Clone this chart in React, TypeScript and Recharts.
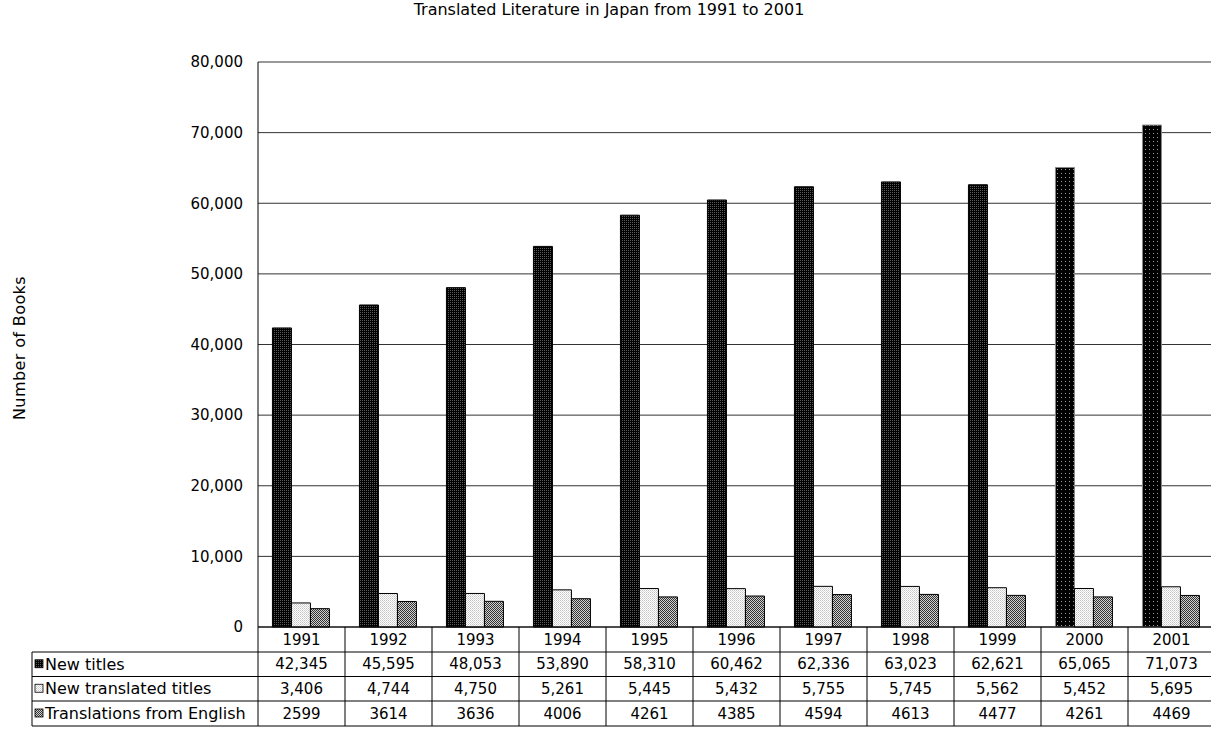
import React from 'react';
import { BarChart, Bar, Cell, XAxis, YAxis, CartesianGrid } from 'recharts';

const YEARS = ['1991', '1992', '1993', '1994', '1995', '1996', '1997', '1998', '1999', '2000', '2001'];
const NEW_TITLES = [42345, 45595, 48053, 53890, 58310, 60462, 62336, 63023, 62621, 65065, 71073];
const NEW_TRANSLATED = [3406, 4744, 4750, 5261, 5445, 5432, 5755, 5745, 5562, 5452, 5695];
const FROM_ENGLISH = [2599, 3614, 3636, 4006, 4261, 4385, 4594, 4613, 4477, 4261, 4469];
const SERIES_LABELS = ['New titles', 'New translated titles', 'Translations from English'];
const Y_TICKS = [0, 10000, 20000, 30000, 40000, 50000, 60000, 70000, 80000];

const FONT = '"DejaVu Sans", "Liberation Sans", Arial, sans-serif';
const CHART_W = 1215;
const CHART_H = 731;
const PLOT_LEFT = 258;
const LABEL_LEFT = 32;
// table row borders below the x axis
const ROW_LINES = [0, 25, 49.5, 74, 99];
const PATTERNS = ['url(#patDark)', 'url(#patLight)', 'url(#patMid)'];

const data = YEARS.map((year, i) => ({
  year,
  newTitles: NEW_TITLES[i],
  translated: NEW_TRANSLATED[i],
  english: FROM_ENGLISH[i],
}));

const fmt = (v: number) => v.toLocaleString('en-US');

const TableTick = (props: any) => {
  const { x, y, payload, index } = props;
  const band = (CHART_W - PLOT_LEFT) / YEARS.length;
  const half = payload && payload.offset ? payload.offset : band / 2;
  const left = x - half;
  const right = x + half;
  const i = YEARS.indexOf(payload.value);
  const cells = [payload.value, fmt(NEW_TITLES[i]), fmt(NEW_TRANSLATED[i]), String(FROM_ENGLISH[i])];
  return (
    <g>
      <line x1={left} y1={y} x2={left} y2={y + ROW_LINES[4]} stroke="#000" />
      {ROW_LINES.slice(1).map((r) => (
        <line key={r} x1={left} y1={y + r} x2={right} y2={y + r} stroke="#000" />
      ))}
      {cells.map((c, k) => (
        <text
          key={k}
          x={x}
          y={y + (ROW_LINES[k] + ROW_LINES[k + 1]) / 2}
          textAnchor="middle"
          dominantBaseline="central"
          fontSize={15}
          fontFamily={FONT}
          fill="#000"
        >
          {c}
        </text>
      ))}
      {index === 0 && (
        <g>
          <line x1={LABEL_LEFT} y1={y + ROW_LINES[1]} x2={LABEL_LEFT} y2={y + ROW_LINES[4]} stroke="#000" />
          {ROW_LINES.slice(1).map((r) => (
            <line key={r} x1={LABEL_LEFT} y1={y + r} x2={left} y2={y + r} stroke="#000" />
          ))}
          {SERIES_LABELS.map((s, k) => {
            const cy = y + (ROW_LINES[k + 1] + ROW_LINES[k + 2]) / 2;
            return (
              <g key={s}>
                <rect x={35} y={cy - 4.5} width={8} height={8} fill={PATTERNS[k]} stroke="#000" strokeWidth={0.8} />
                <text x={45} y={cy} dominantBaseline="central" fontSize={16} fontFamily={FONT} fill="#000">
                  {s}
                </text>
              </g>
            );
          })}
        </g>
      )}
    </g>
  );
};

export default function App() {
  return (
    <div style={{ position: 'absolute', left: 0, top: 0, width: 1211, height: 731, overflow: 'hidden', background: '#fff' }}>
      <svg width={1211} height={731} style={{ position: 'absolute', left: 0, top: 0 }}>
        <text x={609} y={15} textAnchor="middle" fontSize={16} fontFamily={FONT} fill="#000">
          Translated Literature in Japan from 1991 to 2001
        </text>
        <text
          x={19}
          y={348}
          transform="rotate(-90 19 348)"
          textAnchor="middle"
          dominantBaseline="central"
          fontSize={16}
          fontFamily={FONT}
          fill="#000"
          letterSpacing={0.4}
        >
          Number of Books
        </text>
      </svg>
      <div style={{ position: 'absolute', left: 0, top: 0 }}>
        <BarChart
          width={CHART_W}
          height={CHART_H}
          data={data}
          margin={{ top: 62, right: 0, bottom: 0, left: PLOT_LEFT - 80 }}
          barCategoryGap="16.6%"
          barGap={0}
        >
          <defs>
            <pattern id="patDark" width="2" height="2" patternUnits="userSpaceOnUse">
              <rect width="2" height="2" fill="#000" />
              <rect width="1" height="1" fill="#5a5a5a" />
            </pattern>
            <pattern id="patDarkSparse" width="4" height="4" patternUnits="userSpaceOnUse">
              <rect width="4" height="4" fill="#000" />
              <rect x="1" y="1" width="1" height="1" fill="#9a9a9a" />
            </pattern>
            <pattern id="patLight" width="2" height="2" patternUnits="userSpaceOnUse">
              <rect width="2" height="2" fill="#fff" />
              <rect width="1" height="1" fill="#c4c4c4" />
              <rect x="1" y="1" width="1" height="1" fill="#d8d8d8" />
            </pattern>
            <pattern id="patMid" width="2" height="2" patternUnits="userSpaceOnUse">
              <rect width="2" height="2" fill="#d0d0d0" />
              <rect width="1" height="1" fill="#333" />
              <rect x="1" y="1" width="1" height="1" fill="#333" />
            </pattern>
          </defs>
          <CartesianGrid vertical={false} stroke="#333" />
          <XAxis
            dataKey="year"
            height={104}
            interval={0}
            tickLine={false}
            tickSize={0}
            tickMargin={0}
            axisLine={{ stroke: '#000' }}
            tick={<TableTick />}
          />
          <YAxis
            width={80}
            domain={[0, 80000]}
            ticks={Y_TICKS}
            interval={0}
            tickFormatter={fmt}
            tickLine={false}
            tickSize={6}
            tickMargin={9}
            axisLine={{ stroke: '#000' }}
            tick={{ fontSize: 15, fill: '#000', fontFamily: FONT }}
          />
          <Bar dataKey="newTitles" fill="url(#patDark)" stroke="#000" strokeWidth={1} isAnimationActive={false}>
            {data.map((d, i) => (
              <Cell
                key={d.year}
                fill={i >= 9 ? 'url(#patDarkSparse)' : 'url(#patDark)'}
                stroke={i >= 9 ? '#888' : '#000'}
              />
            ))}
          </Bar>
          <Bar dataKey="translated" fill="url(#patLight)" stroke="#000" strokeWidth={1} isAnimationActive={false} />
          <Bar dataKey="english" fill="url(#patMid)" stroke="#000" strokeWidth={1} isAnimationActive={false} />
        </BarChart>
      </div>
    </div>
  );
}
